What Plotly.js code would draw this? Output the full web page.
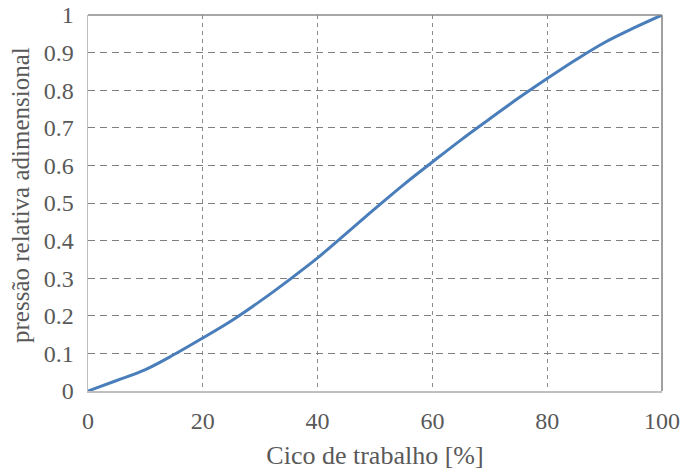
<!DOCTYPE html>
<html><head><meta charset="utf-8">
<script src="https://cdn.plot.ly/plotly-3.0.1.min.js"></script>
<style>html,body{margin:0;padding:0;background:#fff}#c{width:680px;height:470px}</style>
</head><body><div id="c"></div>
<script>
const cycle = [0, 5, 10, 15, 20, 25, 30, 35, 40, 45, 50, 55, 60, 65, 70, 75, 80, 85, 90, 95, 100];
const pressure = [0, 0.028, 0.057, 0.097, 0.141, 0.187, 0.239, 0.295, 0.354, 0.419, 0.485, 0.549, 0.609, 0.668, 0.724, 0.779, 0.831, 0.881, 0.927, 0.965, 1];
const xTicks = [0, 20, 40, 60, 80, 100];
const yTicks = [0, 0.1, 0.2, 0.3, 0.4, 0.5, 0.6, 0.7, 0.8, 0.9, 1];
const yTickText = ['0','0.1','0.2','0.3','0.4','0.5','0.6','0.7','0.8','0.9','1'];
const xTitle = 'Cico de trabalho [%]';
const yTitle = 'pressão relativa adimensional';

const FAM = 'Liberation Serif, Times New Roman, serif';
const COL = '#595959';

Plotly.newPlot('c', [{
  x: cycle, y: pressure, type: 'scatter', mode: 'lines',
  line: {color: '#4a7ebb', width: 3, shape: 'spline', smoothing: 1},
  hoverinfo: 'none'
}], {
  width: 680, height: 470,
  margin: {l: 88, r: 18, t: 15, b: 79},
  paper_bgcolor: '#fff', plot_bgcolor: '#fff',
  showlegend: false,
  font: {family: FAM, color: COL, size: 24},
  xaxis: {
    range: [0, 100], tickvals: xTicks, ticks: '',
    tickfont: {family: FAM, color: COL, size: 24},
    showgrid: true, gridcolor: '#8a8a8a', gridwidth: 1, griddash: '4px,4px',
    showline: true, linecolor: '#bfbfbf', linewidth: 1.5,
    zeroline: false, ticklabelstandoff: 8,
    title: {text: xTitle, font: {family: FAM, color: COL, size: 26}, standoff: 14}
  },
  yaxis: {
    range: [0, 1], tickvals: yTicks, ticktext: yTickText, ticks: '',
    tickfont: {family: FAM, color: COL, size: 24},
    showgrid: true, gridcolor: '#7f7f7f', gridwidth: 1, griddash: '7px,5px',
    showline: true, linecolor: '#bfbfbf', linewidth: 1.5,
    zeroline: false, ticklabelstandoff: 8
  },
  annotations: [{
    text: yTitle, textangle: -90, xref: 'paper', yref: 'paper',
    x: (20 - 88) / 574, y: (391 - 195) / 376, xanchor: 'center', yanchor: 'middle',
    showarrow: false, font: {family: FAM, color: COL, size: 25}
  }],
  shapes: [
    {type: 'line', xref: 'paper', yref: 'paper', x0: 1, x1: 1, y0: 0, y1: 1, line: {color: '#808080', width: 1.5}},
    {type: 'line', xref: 'paper', yref: 'paper', x0: 0, x1: 1, y0: 1, y1: 1, line: {color: '#8a8a8a', width: 1.5}}
  ]
}, {displayModeBar: false, staticPlot: true});
</script></body></html>
